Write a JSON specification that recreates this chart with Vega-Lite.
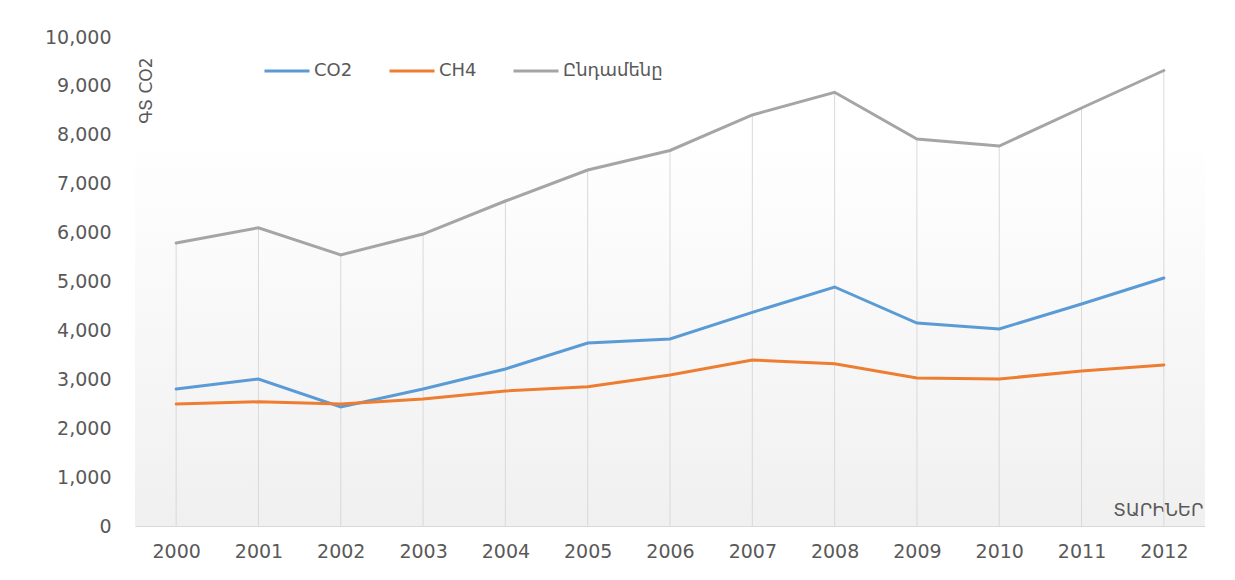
{
  "$schema": "https://vega.github.io/schema/vega-lite/v6.json",
  "autosize": "none",
  "width": 1070,
  "height": 489,
  "padding": {"left": 135, "top": 37, "right": 30, "bottom": 54},
  "background": "#ffffff",
  "config": {
    "font": "DejaVu Sans",
    "view": {
      "stroke": null,
      "fill": {
        "gradient": "linear",
        "x1": 0, "y1": 0, "x2": 0, "y2": 1,
        "stops": [
          {"offset": 0, "color": "#ffffff"},
          {"offset": 0.2, "color": "#ffffff"},
          {"offset": 1, "color": "#f0f0f0"}
        ]
      }
    }
  },
  "data": {
    "values": [
      {"year": "2000", "series": "CO2", "value": 2802},
      {"year": "2001", "series": "CO2", "value": 3006},
      {"year": "2002", "series": "CO2", "value": 2434},
      {"year": "2003", "series": "CO2", "value": 2802},
      {"year": "2004", "series": "CO2", "value": 3211},
      {"year": "2005", "series": "CO2", "value": 3742},
      {"year": "2006", "series": "CO2", "value": 3824},
      {"year": "2007", "series": "CO2", "value": 4370},
      {"year": "2008", "series": "CO2", "value": 4888},
      {"year": "2009", "series": "CO2", "value": 4151},
      {"year": "2010", "series": "CO2", "value": 4029},
      {"year": "2011", "series": "CO2", "value": 4540},
      {"year": "2012", "series": "CO2", "value": 5072},
      {"year": "2000", "series": "CH4", "value": 2495},
      {"year": "2001", "series": "CH4", "value": 2540},
      {"year": "2002", "series": "CH4", "value": 2495},
      {"year": "2003", "series": "CH4", "value": 2597},
      {"year": "2004", "series": "CH4", "value": 2761},
      {"year": "2005", "series": "CH4", "value": 2850},
      {"year": "2006", "series": "CH4", "value": 3088},
      {"year": "2007", "series": "CH4", "value": 3395},
      {"year": "2008", "series": "CH4", "value": 3320},
      {"year": "2009", "series": "CH4", "value": 3027},
      {"year": "2010", "series": "CH4", "value": 3006},
      {"year": "2011", "series": "CH4", "value": 3170},
      {"year": "2012", "series": "CH4", "value": 3292},
      {"year": "2000", "series": "Ընդամենը", "value": 5787},
      {"year": "2001", "series": "Ընդամենը", "value": 6100},
      {"year": "2002", "series": "Ընդամենը", "value": 5545},
      {"year": "2003", "series": "Ընդամենը", "value": 5971},
      {"year": "2004", "series": "Ընդամենը", "value": 6646},
      {"year": "2005", "series": "Ընդամենը", "value": 7280},
      {"year": "2006", "series": "Ընդամենը", "value": 7680},
      {"year": "2007", "series": "Ընդամենը", "value": 8405},
      {"year": "2008", "series": "Ընդամենը", "value": 8870},
      {"year": "2009", "series": "Ընդամենը", "value": 7914},
      {"year": "2010", "series": "Ընդամենը", "value": 7771},
      {"year": "2011", "series": "Ընդամենը", "value": 8548},
      {"year": "2012", "series": "Ընդամենը", "value": 9315}
    ]
  },
  "encoding": {
    "x": {
      "field": "year",
      "type": "ordinal",
      "scale": {"type": "point", "padding": 0.5},
      "axis": {
        "title": "ՏԱՐԻՆԵՐ",
        "titleX": 1068,
        "titleY": -7,
        "titleAlign": "right",
        "titleBaseline": "bottom",
        "titleFontSize": 18,
        "titleFontWeight": "normal",
        "titleColor": "#595959",
        "labelAngle": 0,
        "labelFontSize": 19,
        "labelColor": "#595959",
        "labelPadding": 16,
        "ticks": false,
        "grid": false,
        "domainColor": "#d9d9d9",
        "domainWidth": 1
      }
    },
    "y": {
      "field": "value",
      "type": "quantitative",
      "scale": {"domain": [0, 10000], "nice": false},
      "axis": {
        "title": "ԳՏ CO2",
        "titleAngle": -90,
        "titleX": 3,
        "titleY": 20,
        "titleAlign": "right",
        "titleBaseline": "top",
        "titleFontSize": 17,
        "titleFontWeight": "normal",
        "titleColor": "#595959",
        "values": [0, 1000, 2000, 3000, 4000, 5000, 6000, 7000, 8000, 9000, 10000],
        "format": ",.0f",
        "labelFontSize": 19,
        "labelColor": "#595959",
        "labelPadding": 24,
        "ticks": false,
        "domain": false,
        "grid": false
      }
    }
  },
  "layer": [
    {
      "transform": [{"filter": "datum.series === 'Ընդամենը'"}],
      "mark": {"type": "rule", "color": "#d9d9d9", "strokeWidth": 1},
      "encoding": {"y2": {"datum": 0}}
    },
    {
      "mark": {"type": "line", "strokeWidth": 3, "strokeCap": "round"},
      "encoding": {
        "color": {
          "field": "series",
          "type": "nominal",
          "scale": {
            "domain": ["CO2", "CH4", "Ընդամենը"],
            "range": ["#5B9BD5", "#ED7D31", "#A5A5A5"]
          },
          "legend": {
            "title": null,
            "orient": "none",
            "legendX": 128,
            "legendY": 10,
            "direction": "horizontal",
            "symbolType": "stroke",
            "symbolSize": 2025,
            "symbolStrokeWidth": 3,
            "labelFontSize": 18,
            "labelColor": "#595959",
            "labelOffset": 3,
            "columnPadding": 30
          }
        }
      }
    }
  ]
}
